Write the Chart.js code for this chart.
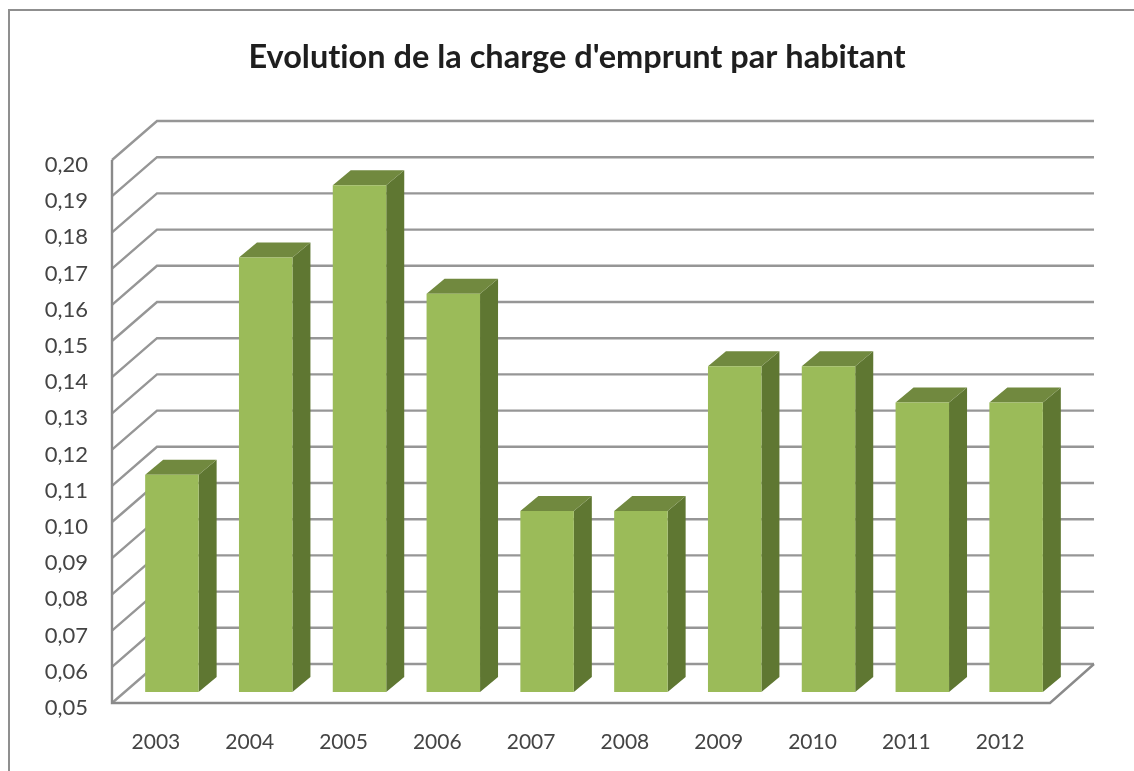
<!DOCTYPE html>
<html lang="fr">
<head>
<meta charset="utf-8">
<title>Evolution de la charge d'emprunt par habitant</title>
<script src="https://cdn.jsdelivr.net/npm/chart.js@4"></script>
<style>html,body{margin:0;padding:0;background:#fff}canvas{display:block}</style>
</head>
<body>
<canvas id="c" width="1134" height="771"></canvas>
<script>
const years = ['2003','2004','2005','2006','2007','2008','2009','2010','2011','2012'];
const chargeParHabitant = [0.11,0.17,0.19,0.16,0.10,0.10,0.14,0.14,0.13,0.13];
const titleText = "Evolution de la charge d'emprunt par habitant";
const axisMin = 0.05, axisMax = 0.20, axisStep = 0.01;

const pseudo3d = {
  id: 'pseudo3d',
  beforeDraw(chart) {
    const {ctx, chartArea: a, scales: {y}} = chart;
    ctx.textRendering = 'optimizeSpeed';
    ctx.save();
    // outer frame
    ctx.strokeStyle = '#8f8f8f'; ctx.lineWidth = 2;
    ctx.beginPath(); ctx.moveTo(9, chart.height); ctx.lineTo(9, 10); ctx.lineTo(chart.width, 10); ctx.stroke();
    // walls
    const fl = a.left - 13, bl = a.left + 32, fr = a.right - 13, br = a.right + 31;
    const fy = v => y.getPixelForValue(v) + 11, by = v => y.getPixelForValue(v) - 28;
    ctx.strokeStyle = '#969696'; ctx.lineWidth = 2.4;
    y.ticks.forEach(t => {
      ctx.beginPath();
      ctx.moveTo(fl, fy(t.value)); ctx.lineTo(bl, by(t.value)); ctx.lineTo(br, by(t.value));
      ctx.stroke();
    });
    ctx.strokeStyle = '#8a8a8a';
    ctx.beginPath();
    ctx.moveTo(fl, fy(axisMax)); ctx.lineTo(fl, fy(axisMin)); ctx.lineTo(fr, fy(axisMin)); ctx.lineTo(br, by(axisMin));
    ctx.stroke();
    ctx.restore();
  },
  beforeDatasetsDraw(chart) {
    const {ctx} = chart;
    const dx = 18, dy = 15;
    ctx.save();
    chart.getDatasetMeta(0).data.forEach(b => {
      const l = b.x - b.width / 2, r = b.x + b.width / 2;
      ctx.fillStyle = '#5f7732';
      ctx.beginPath();
      ctx.moveTo(r, b.y); ctx.lineTo(r + dx, b.y - dy); ctx.lineTo(r + dx, b.base - dy); ctx.lineTo(r, b.base);
      ctx.closePath(); ctx.fill();
      ctx.fillStyle = '#71893f';
      ctx.beginPath();
      ctx.moveTo(l, b.y); ctx.lineTo(l + dx, b.y - dy); ctx.lineTo(r + dx, b.y - dy); ctx.lineTo(r, b.y);
      ctx.closePath(); ctx.fill();
    });
    ctx.restore();
  }
};

new Chart(document.getElementById('c'), {
  type: 'bar',
  data: {
    labels: years,
    datasets: [{
      data: chargeParHabitant,
      base: axisMin,
      backgroundColor: '#9bbb59',
      borderWidth: 0,
      barPercentage: 0.57,
      categoryPercentage: 1
    }]
  },
  plugins: [pseudo3d],
  options: {
    responsive: false,
    animation: false,
    layout: {padding: {left: 20, right: 0, top: 0, bottom: 0}},
    plugins: {
      legend: {display: false},
      tooltip: {enabled: false},
      title: {
        display: true,
        text: titleText,
        color: '#1e1e1e',
        font: {family: 'Lato', size: 32.5, weight: 'bold', lineHeight: 1.2},
        padding: {top: 38.5, bottom: 71.5}
      }
    },
    scales: {
      x: {
        grid: {display: false, drawTicks: false},
        border: {display: false},
        ticks: {
          color: '#444',
          font: {family: 'Lato', size: 21},
          padding: 38,
          labelOffset: -16,
          maxRotation: 0,
          autoSkip: false
        },
        afterFit(s) { s.height = 79; }
      },
      y: {
        min: axisMin,
        max: axisMax,
        grid: {display: false, drawTicks: false},
        border: {display: false},
        ticks: {
          stepSize: axisStep,
          color: '#444',
          font: {family: 'Lato', size: 22},
          padding: 37,
          labelOffset: 16,
          callback: v => v.toFixed(2).replace('.', ',')
        },
        afterFit(s) { s.width = 105; }
      },
      rightMargin: {
        position: 'right',
        min: axisMin,
        max: axisMax,
        grid: {display: false, drawTicks: false},
        border: {display: false},
        ticks: {display: false},
        afterFit(s) { s.width = 71; }
      }
    }
  }
});
</script>
</body>
</html>
